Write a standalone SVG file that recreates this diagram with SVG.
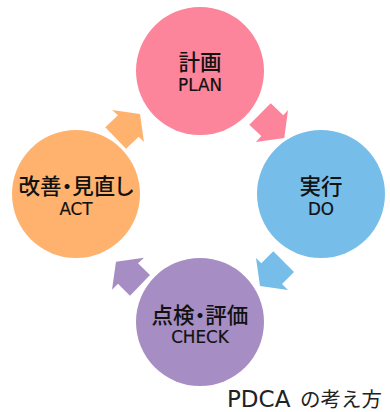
<svg xmlns="http://www.w3.org/2000/svg" width="390" height="412" viewBox="0 0 390 412">
<style>
text{fill:#111;text-anchor:middle}
.j{font-family:"Noto Sans CJK JP",sans-serif;font-size:21.5px;font-weight:500;font-feature-settings:"palt"}
.e{font-family:"DejaVu Sans",sans-serif;font-size:16.8px;stroke:#111;stroke-width:.2}
.c{text-anchor:start;fill:#222;font-family:"DejaVu Sans","Noto Sans CJK JP",sans-serif;font-size:23px}
.cj{font-family:"Noto Sans CJK JP",sans-serif;font-size:20.5px}
.pink{fill:#fc849b}.blue{fill:#77bde9}.purple{fill:#a68dc3}.orange{fill:#ffb26e}
</style>
<rect width="390" height="412" fill="#fff"/>
<g id="connectors">
<polygon class="pink" points="270.7,103.3 283.3,115.3 288,110 284.3,138 256,142 261.3,136 249.3,124.7"/>
<polygon class="blue" points="273.3,251.3 294,272 282,284 288,290 260,286 256,258 261.3,263.3"/>
<polygon class="purple" points="150,275 130,295.7 118,283.7 112,289.7 116,261.7 144,257.7 138,263.3"/>
<polygon class="orange" points="105.3,127.3 118,115.3 112,110 140,114 144,142 138.7,136.7 126,148.7"/>
</g>
<g id="plan"><circle class="pink" cx="200" cy="71" r="64"/><text class="j" x="200" y="70">計画</text><text class="e" x="200" y="91">PLAN</text></g>
<g id="do"><circle class="blue" cx="321" cy="194" r="64"/><text class="j" x="321" y="194">実行</text><text class="e" x="321" y="215">DO</text></g>
<g id="check"><circle class="purple" cx="200" cy="322" r="64"/><text class="j" x="200" y="323">点検・評価</text><text class="e" x="200" y="343">CHECK</text></g>
<g id="act"><circle class="orange" cx="76" cy="194" r="64"/><text class="j" x="76" y="194">改善・見直し</text><text class="e" x="76" y="215">ACT</text></g>
<text id="caption" class="c" x="227" y="407">PDCA <tspan class="cj" x="300">の考え方</tspan></text>
</svg>
